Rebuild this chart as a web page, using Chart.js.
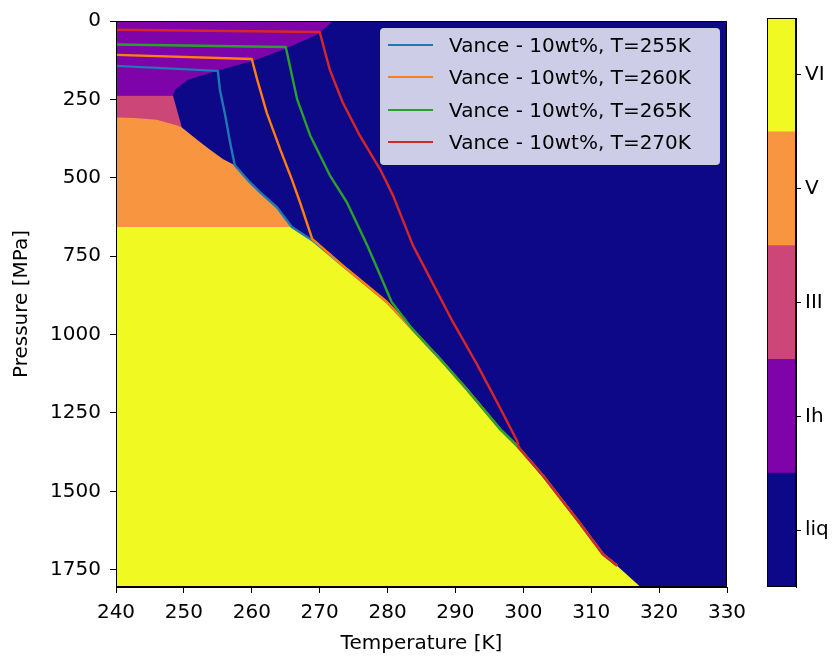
<!DOCTYPE html>
<html>
<head>
<meta charset="utf-8">
<script src="https://cdn.jsdelivr.net/npm/chart.js@4.4.1/dist/chart.umd.min.js"></script>
<style>
  html, body { margin: 0; padding: 0; background: #fff; }
  #wrap { position: relative; width: 837px; height: 656px; font-family: "DejaVu Sans", sans-serif; color: #000; }
  #phase { position: absolute; left: 0; top: 0; }
  #cbar { position: absolute; left: 740px; top: 0; }
  #legend { position: absolute; left: 380px; top: 28px; width: 340px; height: 137px; box-sizing: border-box;
            background: rgba(255, 255, 255, 0.8); border: 1px solid rgba(204, 204, 204, 0.8); border-radius: 4px; }
  .row { position: absolute; left: 0; height: 24px; width: 100%; }
  .swatch { position: absolute; left: 7px; top: 11px; width: 45px; height: 2px; }
  .label { position: absolute; left: 68px; top: 0; font-size: 20px; line-height: 24px; white-space: nowrap; }
</style>
</head>
<body>
<div id="wrap">
  <canvas id="phase" width="760" height="656"></canvas>
  <canvas id="cbar" width="97" height="656"></canvas>
  <div id="legend"></div>
</div>
<script>
// axis limits and tick values
const tMin = 240, tMax = 330;
const pMin = 0, pMax = 1805;
const tempTicks = [240, 250, 260, 270, 280, 290, 300, 310, 320, 330];
const pressTicks = [0, 250, 500, 750, 1000, 1250, 1500, 1750];

// phases, bottom to top of the colour bar
const phaseNames = ['liq', 'Ih', 'III', 'V', 'VI'];
const phaseColors = ['#0d0887', '#7e03a8', '#cc4778', '#f89540', '#f0f921'];

// phase boundaries, [T (K), P (MPa)]
const ihEdge = [[240, 238], [248.4, 238], [248.7, 219], [250.6, 187], [255.3, 156], [260.2, 127], [264.6, 92], [269.6, 44], [272.0, 0]];
const iiiEdge = [[240, 238], [248.4, 238], [249.7, 340]];
const vTop = [[240, 308], [242.8, 309], [246.0, 315], [249.0, 333]];
const meltV = [[249.7, 340], [251.9, 378], [253.8, 410], [255.8, 441], [257.5, 460], [259.7, 514], [261.2, 546], [263.7, 594], [265.9, 657]];
const meltVI = [[265.9, 657], [268.9, 699], [274.0, 791], [279.9, 896], [283.7, 984], [287.7, 1077], [291.7, 1175],
                [296.6, 1302], [299.3, 1360], [302.9, 1450], [307.9, 1590], [311.7, 1700], [313.8, 1737], [317.2, 1804]];
const viLeft = [[240, 657]];

// Vance 10wt% profiles up to where they reach the melting curve
const profileTemps = [255, 260, 265, 270];
const profile255 = [[240, 143], [255, 159], [255.3, 219], [256.1, 302], [256.8, 387], [257.5, 460]];
const profile260 = [[240, 108], [260, 121], [260.8, 187], [262.2, 292], [264.2, 410], [265.9, 505], [267.1, 578], [268.9, 695]];
const profile265 = [[240, 75], [265, 83], [266.7, 251], [268.6, 365], [271.5, 492], [274.0, 578], [277.0, 715], [278.9, 810], [280.6, 896]];
const profile270 = [[240, 28], [270, 35], [271.5, 156], [273.4, 260], [275.9, 365], [278.9, 473], [280.8, 556], [283.7, 714],
                    [289.6, 959], [293.2, 1096], [296.6, 1235], [299.1, 1340]];
const profileEndP = 1740;
const profileColors = ['#1f77b4', '#ff7f0e', '#2ca02c', '#d62728'];

const font = { family: 'DejaVu Sans', size: 20 };
const xy = pts => pts.map(([x, y]) => ({ x, y }));

// after meeting the melting curve, each profile runs along it
const meltCurve = meltV.concat(meltVI.slice(1));
function withMelt(pts) {
  const lastT = pts[pts.length - 1][0];
  return pts.concat(meltCurve.filter(p => p[0] > lastT && p[1] <= profileEndP));
}

function region(pts, color, toP, order) {
  return {
    data: xy(pts), backgroundColor: color, borderWidth: 0, pointRadius: 0,
    fill: { value: toP }, order: order
  };
}

const profiles = [profile255, profile260, profile265, profile270];
const lineSets = profiles.map((pts, i) => ({
  label: `Vance - 10wt%, T=${profileTemps[i]}K`,
  data: xy(withMelt(pts)),
  borderColor: profileColors[i],
  borderWidth: 2.4,
  borderJoinStyle: 'round',
  pointRadius: 0,
  fill: false,
  order: profiles.length - i
}));

const datasets = [
  region([[tMin, pMin], [tMax, pMin]], phaseColors[0], pMax, 20),
  region(ihEdge, phaseColors[1], pMin, 19),
  region(iiiEdge, phaseColors[2], pMax, 18),
  region(vTop.concat(meltV), phaseColors[3], pMax, 17),
  region(viLeft.concat(meltVI), phaseColors[4], pMax, 16),
  ...lineSets
];

// black box round the plotting area
const framePlugin = {
  id: 'frame',
  afterDatasetsDraw(chart) {
    const { ctx, chartArea: a } = chart;
    ctx.save();
    ctx.strokeStyle = '#000';
    ctx.lineWidth = 1;
    ctx.strokeRect(a.left + 0.5, a.top + 0.5, a.right - a.left - 1, a.bottom - a.top - 1);
    ctx.restore();
  }
};

const tickGrid = { display: true, drawOnChartArea: false, drawTicks: true, tickLength: 6, color: '#000', tickColor: '#000' };

new Chart(document.getElementById('phase'), {
  type: 'line',
  data: { datasets },
  options: {
    responsive: false,
    animation: false,
    layout: { padding: { top: 18, right: 33, left: 0, bottom: 0 } },
    elements: { line: { tension: 0 } },
    plugins: { legend: { display: false }, tooltip: { enabled: false } },
    scales: {
      x: {
        type: 'linear', min: tMin, max: tMax,
        afterBuildTicks: s => { s.ticks = tempTicks.map(v => ({ value: v })); },
        afterFit: s => { s.height = 69; },
        ticks: { font, color: '#000', padding: 8, maxRotation: 0, autoSkip: false, callback: v => String(v) },
        grid: tickGrid,
        border: { display: true, color: '#000', z: 1 },
        title: { display: true, text: 'Temperature [K]', font, color: '#000', padding: { top: 4, bottom: 0 } }
      },
      y: {
        type: 'linear', reverse: true, min: pMin, max: pMax,
        afterBuildTicks: s => { s.ticks = pressTicks.map(v => ({ value: v })); },
        afterFit: s => { s.width = 116; },
        ticks: { font, color: '#000', padding: 9, autoSkip: false, callback: v => String(v) },
        grid: tickGrid,
        border: { display: true, color: '#000', z: 1 },
        title: { display: true, text: 'Pressure [MPa]', font, color: '#000', padding: { top: 10, bottom: 0 } }
      }
    }
  },
  plugins: [framePlugin]
});

// colour bar: one stacked bar, one segment per phase
new Chart(document.getElementById('cbar'), {
  type: 'bar',
  data: {
    labels: [''],
    datasets: phaseNames.map((name, i) => ({
      label: name, data: [1], backgroundColor: phaseColors[i], borderWidth: 0,
      categoryPercentage: 1, barPercentage: 1
    }))
  },
  options: {
    responsive: false,
    animation: false,
    layout: { padding: { left: 27, top: 18, right: 0, bottom: 69 } },
    plugins: { legend: { display: false }, tooltip: { enabled: false } },
    scales: {
      x: { display: false, stacked: true },
      y: {
        stacked: true, position: 'right', min: 0, max: phaseNames.length,
        afterBuildTicks: s => { s.ticks = phaseNames.map((_, i) => ({ value: i + 0.5 })); },
        afterFit: s => { s.width = 41; },
        ticks: { font, color: '#000', padding: 4, autoSkip: false, callback: (v, i) => phaseNames[i] },
        grid: { display: true, drawOnChartArea: false, drawTicks: true, tickLength: 5, color: '#000', tickColor: '#000' },
        border: { display: true, color: '#000', z: 1 }
      }
    }
  },
  plugins: [framePlugin]
});

// legend box inside the plot
const legend = document.getElementById('legend');
lineSets.forEach((ds, i) => {
  const row = document.createElement('div');
  row.className = 'row';
  row.style.top = (4 + i * 32.3) + 'px';
  const sw = document.createElement('div');
  sw.className = 'swatch';
  sw.style.background = ds.borderColor;
  const lab = document.createElement('div');
  lab.className = 'label';
  lab.textContent = ds.label;
  row.appendChild(sw);
  row.appendChild(lab);
  legend.appendChild(row);
});
</script>
</body>
</html>
